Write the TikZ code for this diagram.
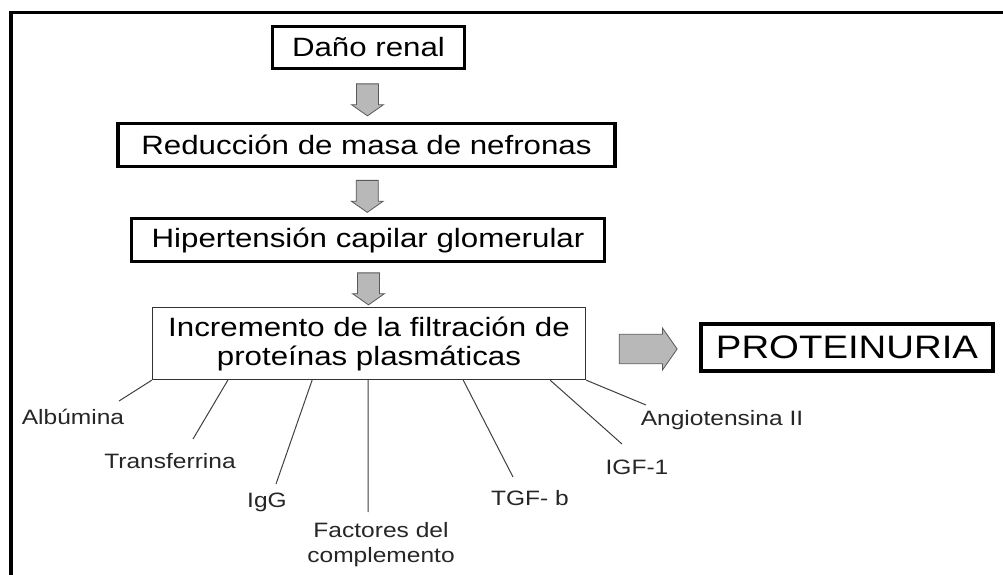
\documentclass[tikz,border=0pt]{standalone}
\usepackage{fontspec}
\setmainfont[FakeStretch=1.18]{Liberation Sans}
\usepackage{tikz}
\usetikzlibrary{calc, positioning, shapes.arrows}
\tikzset{
  caja/.style={draw, line width=3.3pt, inner sep=0pt, font=\fontsize{26.5}{29}\selectfont},
  flecha/.style={single arrow, draw=black!65, fill=black!28, line width=0.8pt, inner xsep=0pt, single arrow tip angle=110, single arrow head extend=4pt},
  etiqueta/.style={font=\fontsize{20.8}{25}\selectfont, text=black!85, inner sep=0pt, align=center},
  rama/.style={draw=black!75, line width=1pt}
}

\begin{document}
\begin{tikzpicture}[x=1pt,y=-1pt]
	\clip (0,0) rectangle (1003,574);
	\fill[white] (0,0) rectangle (1003,574);
	\draw[line width=3.4pt] (11,590) -- (11,12.5) -- (1020,12.5);

	\node[caja, minimum width=192pt, minimum height=42pt] (dano) at (368.5,47.5) {Daño renal};
	\node[caja, minimum width=497pt, minimum height=43pt] (reduccion) at (366.5,145) {Reducción de masa de nefronas};
	\node[caja, minimum width=473pt, minimum height=43pt] (hipertension) at (368,240) {Hipertensión capilar glomerular};
	\node[caja, line width=1.3pt, draw=black!80, minimum width=433pt, minimum height=72pt, align=center] (incremento) at (369,343.5) {Incremento de la filtración de\\proteínas plasmáticas};
	\node[caja, line width=4pt, minimum width=292pt, minimum height=47pt, font=\fontsize{32.5}{36}\selectfont] (proteinuria) at (847,347.5) {PROTEINURIA};

	\node[flecha, rotate=-90, minimum height=32pt, minimum width=32pt, inner ysep=8.5pt] (f1) at ($(dano.south)!0.5!(reduccion.north)$) {};
	\node[flecha, rotate=-90, minimum height=32pt, minimum width=32pt, inner ysep=8.5pt] (f2) at ($(reduccion.south)!0.5!(hipertension.north)$) {};
	\node[flecha, rotate=-90, minimum height=32pt, minimum width=32pt, inner ysep=8.5pt] (f3) at ($(hipertension.south)!0.5!(incremento.north)$) {};
	\node[flecha, minimum height=58pt, minimum width=42pt, inner ysep=9pt] (f4) at (643,349) {};

	\node[etiqueta] (albumina) at (73,417) {Albúmina};
	\node[etiqueta] (transferrina) at (170,461) {Transferrina};
	\node[etiqueta] (igg) at (267,502) {IgG};
	\node[etiqueta] (factores) at (381,545) {Factores del\\complemento};
	\node[etiqueta] (tgf) at (530,498) {TGF- b};
	\node[etiqueta] (igf) at (637,467) {IGF-1};
	\node[etiqueta] (angio) at (722,420) {Angiotensina II};

	\coordinate (albfin) at (119,401);
	\coordinate (trafin) at (193,439);
	\coordinate (iggfin) at (276,484);
	\coordinate (facfin) at (368,512);
	\coordinate (tgffin) at (513,477);
	\coordinate (igffin) at (622,444);
	\coordinate (angfin) at (646,405);
	\foreach \f/\fin in {0/albfin, 0.175/trafin, 0.369/iggfin, 0.498/facfin, 0.717/tgffin, 0.917/igffin, 1/angfin}
		\draw[rama] ($(incremento.south west)!\f!(incremento.south east)$) -- (\fin);
\end{tikzpicture}
\end{document}
